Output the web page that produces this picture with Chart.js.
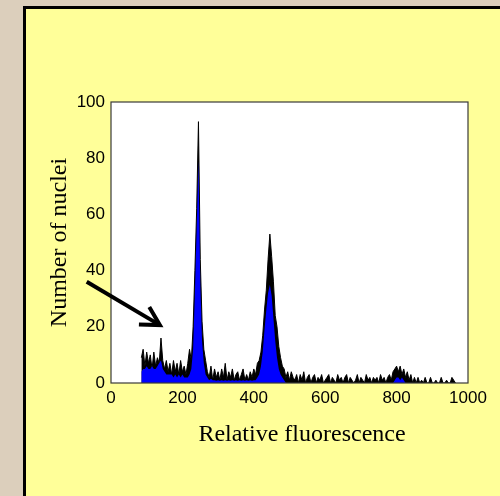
<!DOCTYPE html>
<html>
<head>
<meta charset="utf-8">
<script src="https://cdn.jsdelivr.net/npm/chart.js@4.4.1/dist/chart.umd.min.js"></script>
<style>
  html, body { margin:0; padding:0; width:500px; height:496px; overflow:hidden; background:#dccfbc; }
  #panel { position:absolute; left:23px; top:6px; width:600px; height:600px; border:3px solid #000; background:#ffff99; }
  #c { position:absolute; left:0; top:0; }
</style>
</head>
<body>
<div id="panel"></div>
<canvas id="c" width="500" height="496"></canvas>
<script>
// Relative fluorescence channels
const channels = [
  85,90,95,100,105,110,115,120,125,130,135,140,145,150,155,160,165,170,175,180,
  185,190,195,200,205,210,215,220,225,230,235,240,245,250,255,260,265,270,275,280,
  285,290,295,300,305,310,315,320,325,330,335,340,345,350,355,360,365,370,375,380,
  385,390,395,400,405,410,415,420,425,430,435,440,445,450,455,460,465,470,475,480,
  485,490,495,500,505,510,515,520,525,530,535,540,545,550,555,560,565,570,575,580,
  585,590,595,600,605,610,615,620,625,630,635,640,645,650,655,660,665,670,675,680,
  685,690,695,700,705,710,715,720,725,730,735,740,745,750,755,760,765,770,775,780,
  785,790,795,800,805,810,815,820,825,830,835,840,845,850,855,860,865,870,875,880,
  885,890,895,900,905,910,915,920,925,930,935,940,945,950,955,960,965
];
// Raw counts (black)
const rawCounts = [
  9,12,6,11,7,10,5,11,6,9,7,16,8,5,8,4,7,3,8,4,
  7,3,8,4,6,3,7,12,8,20,40,62,93,44,22,12,8,4,2,6,
  1,5,2,4,1,5,2,7,1,4,2,5,1,3,4,1,3,5,1,3,
  1,4,2,5,3,7,8,11,17,26,33,44,53,45,36,24,20,13,9,6,
  5,2,4,1,4,2,1,3,0,3,1,4,0,2,3,0,2,3,0,2,
  1,3,0,1,2,3,0,2,1,0,3,1,2,0,2,3,0,2,1,0,
  1,3,0,2,1,0,3,1,2,0,2,1,2,0,3,1,2,0,2,3,
  1,4,5,6,4,6,3,5,2,4,1,3,0,2,0,2,0,1,0,2,
  0,0,2,0,0,1,0,0,2,0,0,1,0,0,2,1,0
];
// Smoothed counts (blue)
const smoothCounts = [
  4,5,5,6,5,5,6,5,5,6,7,8,5,4,3,3,3,3,2,3,
  2,3,2,3,2,2,2,3,5,12,32,55,79,36,15,7,3,2,1,1.5,
  1,1,0.8,1,0.8,1,0.8,1,0.8,1,0.8,1,0.8,1,0.8,1,0.8,1,0.8,1,
  0.8,1,0.8,1,1,2,3,6,11,19,26,32,35,31,23,15,9,5,3,2,
  1,0,0,0,0,0,0,0,0,0,0,0,0,0,0,0,0,0,0,0,
  0,0,0,0,0,0,0,0,0,0,0,0,0,0,0,0,0,0,0,0,
  0,0,0,0,0,0,0,0,0,0,0,0,0,0,0,0,0,0,0,0,
  0,0,1,2,2,1,2,1,0,0,0,0,0,0,0,0,0,0,0,0,
  0,0,0,0,0,0,0,0,0,0,0,0,0,0,0,0,0
];
const xTicks = [0,200,400,600,800,1000];
const yTicks = [0,20,40,60,80,100];
const xTitle = 'Relative fluorescence';
const yTitle = 'Number of nuclei';
// Arrow annotation in data units: tail and tip
const arrowTail = [-68, 36];
const arrowTip = [137, 20.6];

const rawPts = channels.map((c, i) => ({x: c, y: rawCounts[i]}));
const smoothPts = channels.map((c, i) => ({x: c, y: smoothCounts[i]}));

const frame = {
  id: 'frame',
  beforeDraw(chart) {
    const {ctx, chartArea: a} = chart;
    ctx.save();
    ctx.fillStyle = '#ffffff';
    ctx.fillRect(a.left, a.top, a.right - a.left, a.bottom - a.top);
    ctx.restore();
  },
  afterDraw(chart) {
    const {ctx, chartArea: a, scales} = chart;
    ctx.save();
    ctx.strokeStyle = '#3a3a3a';
    ctx.lineWidth = 1.2;
    ctx.strokeRect(a.left, a.top, a.right - a.left, a.bottom - a.top);
    // x axis title
    ctx.fillStyle = '#000';
    ctx.font = "24px 'Liberation Serif', 'Times New Roman', serif";
    ctx.textAlign = 'center';
    ctx.textBaseline = 'middle';
    ctx.fillText(xTitle, (a.left + a.right) / 2 + 12.5, a.bottom + 52);
    // arrow
    const x0 = scales.x.getPixelForValue(arrowTail[0]);
    const y0 = scales.y.getPixelForValue(arrowTail[1]);
    const x1 = scales.x.getPixelForValue(arrowTip[0]);
    const y1 = scales.y.getPixelForValue(arrowTip[1]);
    const ang = Math.atan2(y1 - y0, x1 - x0);
    const hl = 21, ha = 29 * Math.PI / 180;
    ctx.strokeStyle = '#000';
    ctx.lineWidth = 4;
    ctx.lineJoin = 'miter';
    ctx.beginPath();
    ctx.moveTo(x0, y0);
    ctx.lineTo(x1, y1);
    ctx.stroke();
    ctx.beginPath();
    ctx.moveTo(x1 - hl * Math.cos(ang - ha), y1 - hl * Math.sin(ang - ha));
    ctx.lineTo(x1, y1);
    ctx.lineTo(x1 - hl * Math.cos(ang + ha), y1 - hl * Math.sin(ang + ha));
    ctx.stroke();
    ctx.restore();
  }
};

new Chart(document.getElementById('c'), {
  type: 'line',
  data: {
    datasets: [
      { label: 'raw', data: rawPts, borderColor: '#000', borderWidth: 1, backgroundColor: '#000',
        fill: 'origin', pointRadius: 0, tension: 0, order: 2 },
      { label: 'smooth', data: smoothPts, borderColor: 'rgba(0,0,255,0)', borderWidth: 0, backgroundColor: '#0000ff',
        fill: 'origin', pointRadius: 0, tension: 0, order: 1 }
    ]
  },
  options: {
    responsive: false,
    devicePixelRatio: 1,
    animation: false,
    events: [],
    layout: { padding: { left: 0, top: 102, right: 32, bottom: 0 } },
    plugins: { legend: { display: false }, tooltip: { enabled: false } },
    scales: {
      x: {
        type: 'linear', min: 0, max: 1000,
        afterFit(s) { s.height = 113; },
        afterBuildTicks(s) { s.ticks = xTicks.map(v => ({value: v})); },
        grid: { display: false, drawTicks: false },
        border: { display: false },
        ticks: { padding: 5, color: '#000', maxRotation: 0, autoSkip: false,
                 callback: v => String(v),
                 font: { family: "'Liberation Sans', Arial, sans-serif", size: 17 } }
      },
      y: {
        type: 'linear', min: 0, max: 100,
        afterFit(s) { s.width = 111; },
        afterBuildTicks(s) { s.ticks = yTicks.map(v => ({value: v})); },
        grid: { display: false, drawTicks: false },
        border: { display: false },
        ticks: { padding: 6, color: '#000', autoSkip: false,
                 callback: v => String(v),
                 font: { family: "'Liberation Sans', Arial, sans-serif", size: 17 } },
        title: { display: true, text: yTitle, color: '#000', padding: { top: 45, bottom: 0 },
                 font: { family: "'Liberation Serif', 'Times New Roman', serif", size: 24 } }
      }
    }
  },
  plugins: [frame]
});
</script>
</body>
</html>
